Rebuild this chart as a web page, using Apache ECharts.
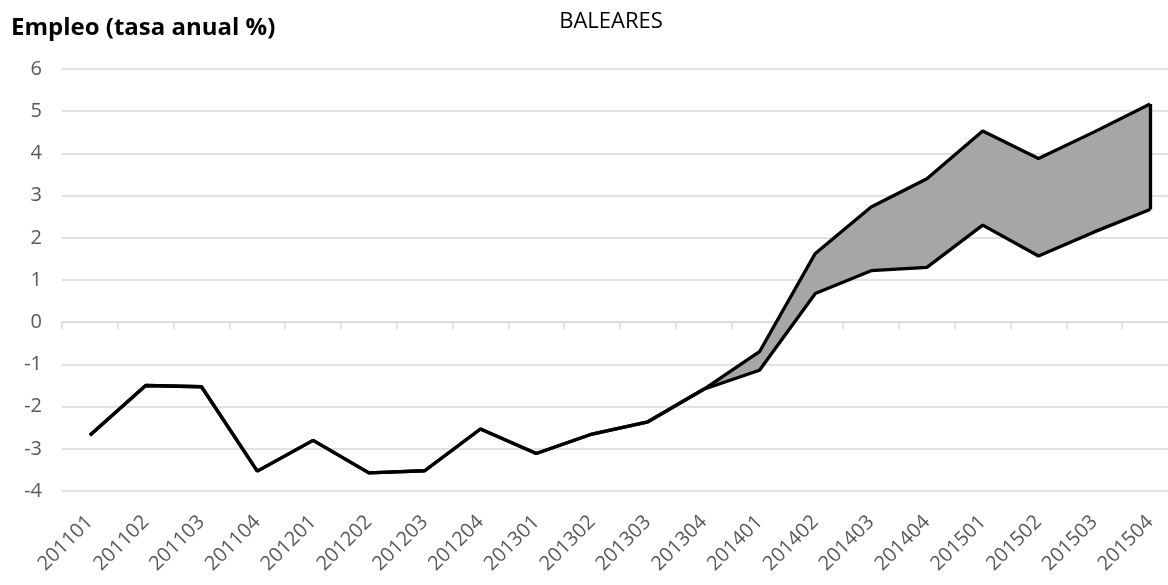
<!DOCTYPE html>
<html><head><meta charset="utf-8">
<script src="https://cdn.jsdelivr.net/npm/echarts@6/dist/echarts.min.js"></script>
<style>html,body{margin:0;padding:0;background:#fff;overflow:hidden}#c{width:1178px;height:585px}</style>
</head><body><div id="c"></div>
<script>
const categories = ['201101','201102','201103','201104','201201','201202','201203','201204','201301','201302','201303','201304','201401','201402','201403','201404','201501','201502','201503','201504'];
const lowerValues = [-2.68,-1.50,-1.53,-3.53,-2.80,-3.57,-3.52,-2.53,-3.11,-2.65,-2.36,-1.59,-1.14,0.68,1.22,1.30,2.30,1.57,2.14,2.67];
const upperValues = [-2.68,-1.50,-1.53,-3.53,-2.80,-3.57,-3.52,-2.53,-3.11,-2.65,-2.36,-1.59,-0.70,1.63,2.73,3.40,4.53,3.88,4.51,5.17];
const yTicks = [-4,-3,-2,-1,0,1,2,3,4,5,6];
const titleText = 'Empleo (tasa anual %)';
const subtitleText = 'BALEARES';

const diffValues = upperValues.map((u, i) => +(u - lowerValues[i]).toFixed(4));
const last = categories.length - 1;
const font = '"Open Sans", sans-serif';
const chart = echarts.init(document.getElementById('c'));
chart.setOption({
  animation: false,
  backgroundColor: '#fff',
  title: [
    {text: titleText, left: 6, top: 11, textStyle: {fontFamily: font, fontSize: 24, fontWeight: 'bold', color: '#000'}},
    {text: subtitleText, left: 606, top: 6, textAlign: 'center', textStyle: {fontFamily: font, fontSize: 22, fontWeight: 'normal', color: '#000'}}
  ],
  grid: {left: 62, right: 0, top: 69, height: 422, containLabel: false},
  xAxis: [
    {type: 'category', data: categories, position: 'top', boundaryGap: true,
     axisLine: {show: true, onZero: true, lineStyle: {color: '#d9d9d9', width: 1.5}},
     axisTick: {show: true, inside: true, length: 7, lineStyle: {color: '#d9d9d9', width: 1.5}},
     axisLabel: {show: false}, splitLine: {show: false}},
    {type: 'category', data: categories, position: 'bottom', boundaryGap: true,
     axisLine: {show: false, onZero: false}, axisTick: {show: false},
     axisLabel: {show: true, rotate: 45, margin: 28, interval: 0, fontFamily: font, fontSize: 20, color: '#595959'},
     splitLine: {show: false}}
  ],
  yAxis: {type: 'value', min: yTicks[0], max: yTicks[yTicks.length - 1], interval: 1,
    axisLine: {show: false}, axisTick: {show: false},
    axisLabel: {margin: 20, fontFamily: font, fontSize: 20, color: '#595959'},
    splitLine: {show: true, lineStyle: {color: '#d9d9d9', width: 1.5}}},
  series: [
    {name: 'lower', type: 'line', xAxisIndex: 0, data: lowerValues, stack: 'band', stackStrategy: 'all', symbol: 'none',
     lineStyle: {color: '#000', width: 3.3}, z: 3},
    {name: 'band', type: 'line', xAxisIndex: 0, data: diffValues, stack: 'band', stackStrategy: 'all', symbol: 'none',
     lineStyle: {color: '#000', width: 3.3}, areaStyle: {color: '#a6a6a6', opacity: 1}, z: 2,
     markLine: {silent: true, symbol: 'none', label: {show: false},
       lineStyle: {color: '#000', width: 3.3, type: 'solid'},
       data: [[{coord: [categories[last], lowerValues[last]]}, {coord: [categories[last], upperValues[last]]}]]}}
  ]
});
</script></body></html>
